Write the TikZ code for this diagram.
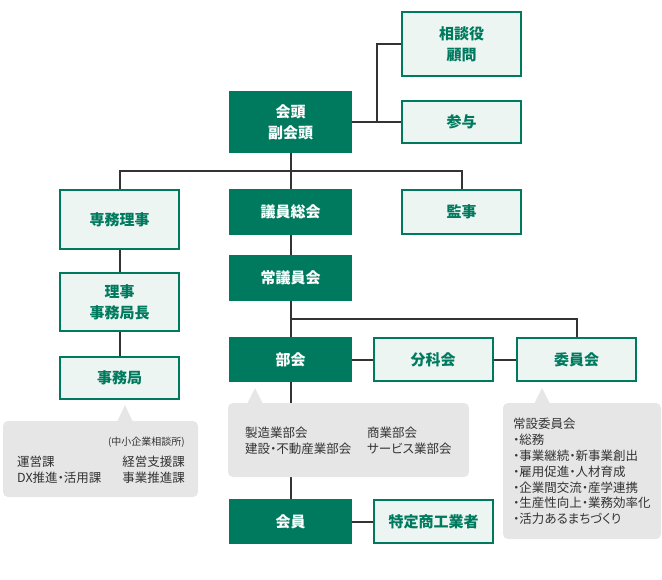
\documentclass[tikz,border=0pt]{standalone}
\usepackage{fontspec}
\setmainfont{Noto Sans CJK JP}[RawFeature=+palt]
\definecolor{kgreen}{HTML}{007A5E}
\definecolor{klight}{HTML}{EDF5F2}
\definecolor{kgray}{HTML}{E6E6E6}
\definecolor{kline}{HTML}{333333}
\definecolor{ktext}{HTML}{333333}

\begin{document}
\begin{tikzpicture}[x=1pt, y=-1pt,
      % dark boxes for the main bodies, light boxes for the others
      darkbox/.style={fill=kgreen, text=white, minimum width=123pt,
      inner sep=0pt, align=center, font=\fontsize{15pt}{21pt}\selectfont\bfseries},
      lightbox/.style={draw=kgreen, line width=2pt, fill=klight, text=kgreen,
      minimum width=119pt, inner sep=0pt, align=center,
      font=\fontsize{15pt}{21pt}\selectfont\bfseries},
      link/.style={draw=kline, line width=2pt},
      bubble/.style={fill=kgray, rounded corners=5pt},
      note/.style={text=ktext, inner sep=0pt, align=left,
      font=\fontsize{12.5pt}{16pt}\selectfont} ]
    \useasboundingbox (0,0) rectangle (662,579);

    % Top
    \node[darkbox, minimum height=62pt] (kaito) at (290.5,122) {会頭\\副会頭};
    \node[lightbox, minimum height=64pt] (sodan) at (461.5,44) {相談役\\顧問};
    \node[lightbox, minimum height=42pt] (sanyo) at (461.5,122) {参与};

    % Left column
    \node[lightbox, minimum height=59pt] (senmu) at (119.5,219.5) {専務理事};
    \node[lightbox, minimum height=58pt] (riji) at (119.5,302) {理事\\事務局長};
    \node[lightbox, minimum height=42pt] (jimukyoku) at (119.5,378) {事務局};

    % Middle column
    \node[darkbox, minimum height=46pt] (giin) at (290.5,212) {議員総会};
    \node[darkbox, minimum height=46pt] (jogiin) at (290.5,278) {常議員会};
    \node[darkbox, minimum height=45pt] (bukai) at (290.5,359.5) {部会};
    \node[darkbox, minimum height=45pt] (kaiin) at (290.5,521.5) {会員};
    \node[lightbox, minimum height=44pt] (kanji) at (461.5,212) {監事};

    % Right of the sections
    \node[lightbox, minimum height=43pt] (bunka) at (433,359.5) {分科会};
    \node[lightbox, minimum height=43pt] (iinkai) at (576.5,359.5) {委員会};
    \node[lightbox, minimum height=43pt] (tokutei) at (433.5,521.5) {特定商工業者};

    % Lines
    \draw[link] (kaito.east) -- (sanyo.west);
    \draw[link] (sanyo.west) ++(-24.5,0) |- (sodan.west);
    \draw[link] (senmu.north) -- ++(0,-18) -| (kanji.north);
    \draw[link] (kaito.south) -- (giin.north);
    \draw[link] (giin.south) -- (jogiin.north);
    \draw[link] (jogiin.south) -- (bukai.north);
    \draw[link] (bukai.north) ++(0,-18) -| (iinkai.north);
    \draw[link] (bukai.east) -- (bunka.west);
    \draw[link] (bunka.east) -- (iinkai.west);
    \draw[link] (bukai.south) -- (kaiin.north);
    \draw[link] (kaiin.east) -- (tokutei.west);
    \draw[link] (senmu.south) -- (riji.north);
    \draw[link] (riji.south) -- (jimukyoku.north);

    % Callouts
    \fill[bubble] (3,421) rectangle (198,497);
    \fill[kgray] (117,422) -- (125,405) -- (133,422) -- cycle;
    \fill[bubble] (228,403) rectangle (469,477);
    \fill[kgray] (247,404) -- (255,388) -- (263,404) -- cycle;
    \fill[bubble] (503,403) rectangle (661,539);
    \fill[kgray] (534,404) -- (542,388) -- (550,404) -- cycle;

    % Callout texts
    \node[note, anchor=east, font=\fontsize{10pt}{12pt}\selectfont] (sodanjo)
    at (185,442) {(中小企業相談所)};
    \node[note, anchor=west] (kaleft) at (17,470) {運営課\\DX推進・活用課};
    \node[note, anchor=east, align=right] (karight) at (185,470) {経営支援課\\事業推進課};
    \node[note, anchor=west] (buleft) at (245,441) {製造業部会\\建設・不動産業部会};
    \node[note, anchor=west] (buright) at (367,441) {商業部会\\サービス業部会};
    \node[note, anchor=west, font=\fontsize{12.5pt}{15.8pt}\selectfont] (jyosetsu)
    at (513,471.5) {常設委員会\\・総務\\・事業継続・新事業創出\\・雇用促進・人材育成\\
    ・企業間交流・産学連携\\・生産性向上・業務効率化\\・活力あるまちづくり};

    \end{tikzpicture}
\end{document}
